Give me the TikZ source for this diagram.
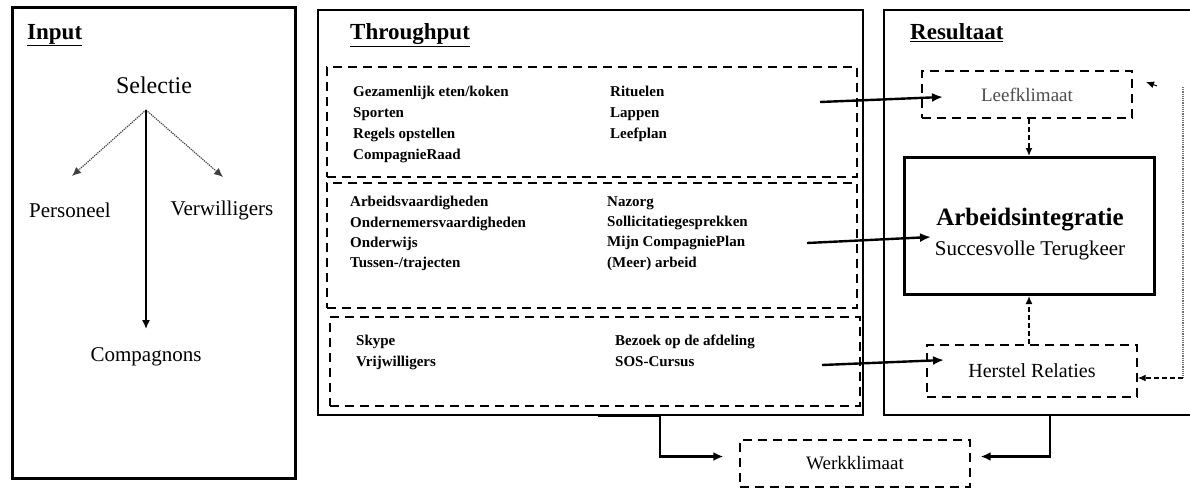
\documentclass[tikz,border=0pt]{standalone}
\usepackage{fontspec}
\setmainfont{Liberation Serif}
\usetikzlibrary{arrows.meta}
\begin{document}
\begin{tikzpicture}[x=1pt,y=-1pt,
  panel/.style={draw, line width=1.6pt, inner sep=0pt},
  dbox/.style={draw, line width=1.4pt, dash pattern=on 9pt off 6pt, inner sep=0pt},
  title/.style={inner sep=0pt, anchor=mid west, font=\fontsize{23}{26}\selectfont\bfseries},
  lbl/.style={inner sep=0pt, font=\fontsize{21}{24}\selectfont},
  list/.style={inner sep=0pt, anchor=north west, align=left, font=\fontsize{15}{21}\selectfont\bfseries},
  conn/.style={line width=2.4pt, -{Latex[length=11pt,width=9pt]}},
  dconn/.style={line width=1.3pt, dash pattern=on 5pt off 3pt, -{Latex[length=8pt,width=7pt]}},
  gconn/.style={line width=1.2pt, black!75, densely dotted, -{Latex[length=9pt,width=8pt]}},
  elbow/.style={line width=2.4pt, -{Latex[length=10pt,width=9pt]}}]
\useasboundingbox (0,0) rectangle (1190,490);

% panels
\node[panel, line width=3pt, minimum width=283, minimum height=471] (inbox) at (153.5,242.5) {};
\node[panel, minimum width=545, minimum height=405] (thbox) at (590.5,212.5) {};
\node[panel, minimum width=320, minimum height=405] (rsbox) at (1044,212.5) {};

% titles
\node[title] (tin) at (27,37) {\underline{Input}};
\node[title] (tth) at (350,37) {\underline{Throughput}};
\node[title] (trs) at (910,37) {\underline{Resultaat}};

% input content
\node[lbl, font=\fontsize{24}{28}\selectfont] (sel) at (154,85) {Selectie};
\node[lbl] (pers) at (70,210) {Personeel};
\node[lbl] (verw) at (222,210) {Verwilligers};
\node[lbl] (comp) at (146,357) {Compagnons};
\coordinate (selfoot) at (146,110);
\coordinate (perstip) at (72,176);
\coordinate (verwtip) at (223,177);
\coordinate (comptip) at (146,329);
\draw[gconn] (selfoot) -- (perstip);
\draw[gconn] (selfoot) -- (verwtip);
\draw[line width=1.5pt, -{Latex[length=9pt,width=8pt]}] (selfoot) -- (comptip);

% throughput dashed boxes
\node[dbox, minimum width=530, minimum height=110] (tb1) at (592,122) {};
\node[dbox, minimum width=530, minimum height=125] (tb2) at (592,245.5) {};
\node[dbox, minimum width=530, minimum height=89] (tb3) at (595,361.5) {};

\node[list] (l1a) at (353,86) {Gezamenlijk eten/koken\\Sporten\\Regels opstellen\\CompagnieRaad};
\node[list] (l1b) at (610,86) {Rituelen\\Lappen\\Leefplan};
\node[list, font=\fontsize{15}{20.4}\selectfont\bfseries] (l2a) at (350,196) {Arbeidsvaardigheden\\Ondernemersvaardigheden\\Onderwijs\\Tussen-/trajecten};
\node[list, font=\fontsize{15}{20.4}\selectfont\bfseries] (l2b) at (607,196) {Nazorg\\Sollicitatiegesprekken\\Mijn CompagniePlan\\(Meer) arbeid};
\node[list] (l3a) at (356,335) {Skype\\Vrijwilligers};
\node[list] (l3b) at (615,335) {Bezoek op de afdeling\\SOS-Cursus};

% result boxes
\node[dbox, minimum width=210, minimum height=47, text=black!70, font=\fontsize{19}{22}\selectfont] (leef) at (1027,94.5) {Leefklimaat};
\node[draw, line width=3pt, minimum width=250, minimum height=137, inner sep=0pt] (arb) at (1029,226) {};
\node[inner sep=0pt, font=\fontsize{25}{30}\selectfont\bfseries] (arbt1) at (1030,220) {Arbeidsintegratie};
\node[inner sep=0pt, font=\fontsize{21}{26}\selectfont] (arbt2) at (1030,250) {Succesvolle Terugkeer};
\node[dbox, minimum width=210, minimum height=52, font=\fontsize{20}{24}\selectfont] (herst) at (1032,371) {Herstel Relaties};
\node[dbox, minimum width=230, minimum height=47, font=\fontsize{19}{22}\selectfont] (werk) at (855,463.5) {Werkklimaat};

% throughput -> result arrows
\coordinate (a1s) at (820,102);
\coordinate (a1e) at (943,97);
\coordinate (a2s) at (807,243);
\coordinate (a2e) at (931,237);
\coordinate (a3s) at (822,365);
\coordinate (a3e) at (944,360);
\draw[conn] (a1s) -- (a1e);
\draw[conn] (a2s) -- (a2e);
\draw[conn] (a3s) -- (a3e);

% internal result arrows
\draw[dconn] (leef.south -| arb.north) -- (arb.north);
\draw[dconn] (herst.north -| arb.south) -- (arb.south);

% feedback line at the right
\coordinate (fbtop) at (1183,87);
\coordinate (fbbot) at (1183,378);
\coordinate (fbtipa) at (1157,86);
\coordinate (fbtipb) at (1146,82);
\draw[line width=1.2pt, black!55, densely dotted] (fbtop) -- (fbbot);
\draw[dconn] (fbbot) -- (fbbot -| herst.east);
\draw[line width=1pt, -{Latex[length=8pt,width=7pt]}] (fbtipa) -- (fbtipb);

% to Werkklimaat
\coordinate (thout) at (660,415);
\coordinate (thseg) at (598,415);
\coordinate (rsout) at (1050,415);
\draw[line width=3pt] (thseg) -- (thout);
\draw[elbow, shorten >=16pt] (thout) |- ([yshift=7]werk.west);
\draw[elbow, shorten >=10pt] (rsout) |- ([yshift=7]werk.east);
\end{tikzpicture}
\end{document}
